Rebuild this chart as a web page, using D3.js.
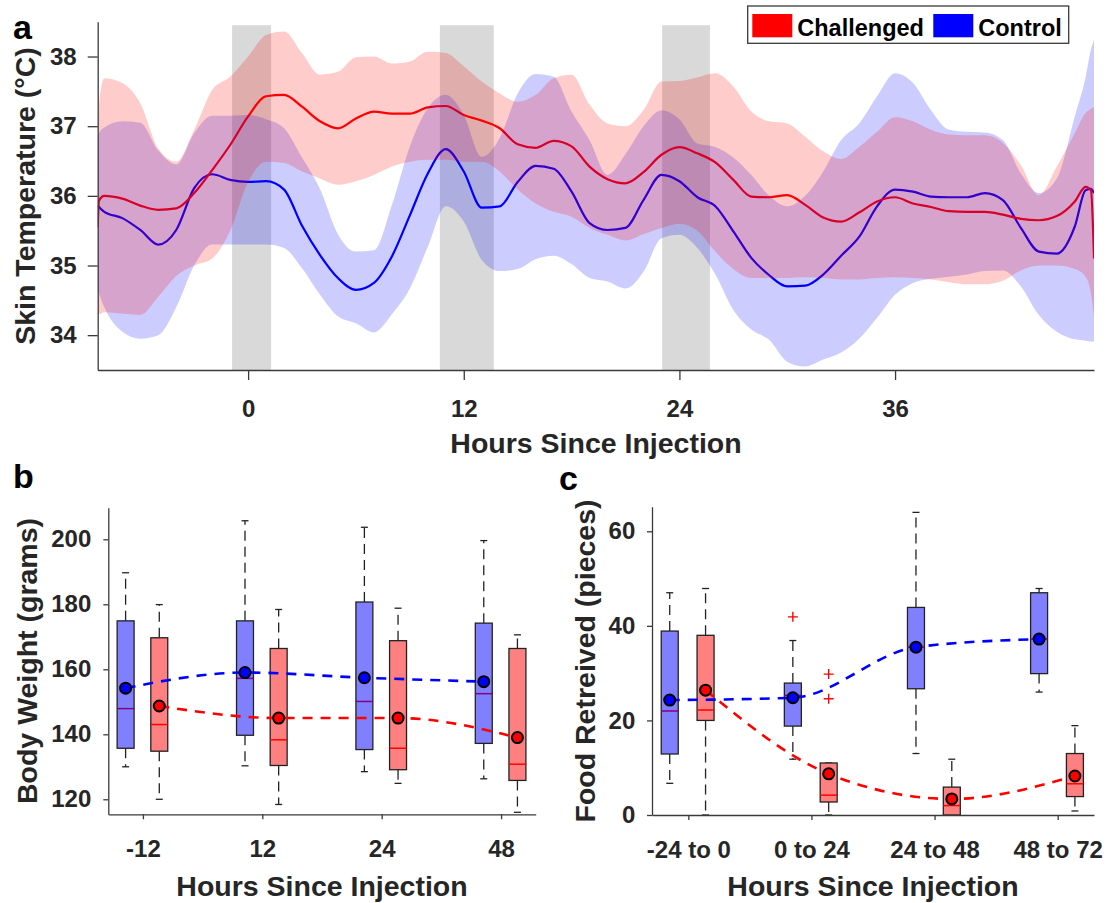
<!DOCTYPE html>
<html><head><meta charset="utf-8">
<script src="https://cdn.jsdelivr.net/npm/d3@7"></script>
<style>
body{margin:0;background:#fff;}
svg{display:block;font-family:"Liberation Sans",Arial,Helvetica,sans-serif;}
</style></head><body>
<svg id="chart" width="1109" height="903"></svg>
<script>
// ---------- Panel a data ----------
const hours = [-8.37,-8.3,-8,-7,-6,-5,-4,-3,-2,-1,0,1,2,3,4,5,6,7,8,9,10,11,12,13,14,15,16,17,18,19,20,21,22,23,24,25,26,27,28,29,30,31,32,33,34,35,36,37,38,39,40,41,42,43,44,45,46,46.6,46.9,47.07];
const challengedMean = [35.55,35.93,36.0,35.96,35.86,35.80,35.82,36.04,36.37,36.73,37.14,37.43,37.45,37.28,37.07,36.97,37.11,37.21,37.18,37.18,37.27,37.29,37.16,37.08,36.97,36.74,36.69,36.79,36.71,36.42,36.24,36.18,36.34,36.59,36.70,36.61,36.48,36.23,35.99,35.98,36.01,35.87,35.69,35.63,35.76,35.92,35.98,35.89,35.84,35.78,35.77,35.77,35.73,35.67,35.65,35.71,35.92,36.13,36.08,35.1];
const challengedLow = [34.3,34.3,34.33,34.31,34.29,34.55,34.85,35.0,35.1,35.5,36.2,36.49,36.47,36.35,36.25,36.16,36.21,36.30,36.42,36.49,36.52,36.52,36.49,36.49,36.35,36.09,35.89,35.77,35.70,35.54,35.44,35.36,35.45,35.54,35.6,35.5,35.2,34.95,34.82,34.82,34.82,34.83,34.82,34.8,34.80,34.82,34.83,34.82,34.80,34.76,34.73,34.73,34.78,34.93,35.0,35.0,34.95,34.84,34.6,34.27];
const challengedHigh = [36.85,37.3,37.69,37.62,37.33,36.68,36.49,36.95,37.52,37.71,38.0,38.31,38.36,38.05,37.74,37.78,37.99,38.0,37.90,37.93,38.07,38.05,37.86,37.64,37.47,37.35,37.45,37.69,37.74,37.31,37.04,37.0,37.23,37.64,37.65,37.70,37.76,37.57,37.21,37.07,37.04,36.85,36.64,36.53,36.70,36.92,37.13,37.07,36.95,36.88,36.87,36.87,36.76,36.44,36.01,36.42,36.90,37.19,37.25,37.28];
const controlMean = [35.86,35.84,35.77,35.68,35.51,35.30,35.51,36.11,36.31,36.23,36.20,36.21,36.09,35.57,35.15,34.82,34.65,34.75,35.13,35.72,36.32,36.67,36.35,35.83,35.85,36.20,36.43,36.39,36.06,35.61,35.51,35.54,35.94,36.30,36.21,35.98,35.85,35.49,35.11,34.86,34.70,34.71,34.87,35.14,35.41,35.85,36.09,36.06,35.99,35.98,35.98,36.04,35.94,35.54,35.20,35.17,35.56,36.08,36.1,36.04];
const controlLow = [34.67,34.6,34.4,34.05,33.95,34.0,34.4,35.0,35.3,35.3,35.3,35.3,35.25,34.96,34.58,34.27,34.17,34.04,34.3,34.67,35.27,35.85,35.63,35.08,34.92,34.95,35.09,35.14,35.02,34.82,34.77,34.67,34.91,35.39,35.44,35.25,34.87,34.36,34.08,33.93,33.62,33.55,33.65,33.75,33.95,34.25,34.58,34.75,34.81,34.84,34.87,34.92,34.93,34.70,34.29,34.05,33.94,33.92,33.91,33.91];
const controlHigh = [36.85,36.9,36.98,37.07,37.05,36.65,36.45,36.9,37.15,37.15,37.16,37.1,36.97,36.55,36.1,35.45,35.20,35.22,35.87,36.71,37.26,37.45,37.16,36.56,36.83,37.47,37.75,37.71,37.21,36.80,36.3,36.6,37.0,37.23,37.1,36.75,36.7,36.55,36.3,36.0,35.85,36.0,36.35,36.8,37.04,37.43,37.76,37.62,37.23,36.95,36.92,36.91,36.80,36.32,36.04,36.25,37.14,37.7,38.1,38.24];
const darkPeriods = [[-0.89,1.28],[10.67,13.67],[23.04,25.7]];
const tempTicks = [34,35,36,37,38];
const hourTicks = [0,12,24,36];
const seriesNames = ["Challenged","Control"];

// ---------- Panel b data: [min, q1, median, q3, max] ----------
const weightGroups = ["-12","12","24","48"];
const weightControlBox = [[130.0,135.7,147.9,174.9,189.7],[130.3,139.7,157.2,174.9,205.7],[128.5,135.3,150.1,180.7,203.7],[126.3,137.2,152.5,174.2,199.6]];
const weightControlMean = [154.2,159.0,157.4,156.2];
const weightChallBox = [[120.0,134.8,143.0,169.7,179.9],[118.4,130.4,138.3,166.4,178.4],[124.9,129.1,135.7,168.8,178.8],[116.0,125.8,130.8,166.4,170.6]];
const weightChallMean = [148.7,145.0,145.0,139.0];
const weightTicks = [120,140,160,180,200];

// ---------- Panel c data ----------
const foodGroups = ["-24 to 0","0 to 24","24 to 48","48 to 72"];
const foodControlBox = [[6.7,12.9,22.0,38.9,47.0],[11.8,18.8,25.3,27.9,36.9],[13.0,26.7,35.5,43.9,64.0],[26.0,29.9,37.2,47.0,47.9]];
const foodControlMean = [24.3,24.8,35.5,37.2];
const foodControlOutliers = [[],[41.9],[],[]];
const foodChallBox = [[0,20.0,22.2,38.0,47.9],[0,2.75,4.2,11.0,11.0],[0,0,2.0,5.9,11.8],[0.85,3.9,6.6,13.0,18.9]];
const foodChallMean = [26.4,8.7,3.4,8.25];
const foodChallOutliers = [[],[24.6,29.8],[],[]];
const foodTicks = [0,20,40,60];

// ---------- Drawing ----------
const svg = d3.select("#chart");
const FONT = '"Liberation Sans",Arial,Helvetica,sans-serif';
const TXT = "#262626", AX = "#3a3a3a";
const RED = "#ff0000", BLUE = "#0000ff";
const intFmt = d3.format("d");

function styleAxis(g){
  g.attr("font-size",null).attr("font-family",null);
  g.select(".domain").attr("stroke",AX).attr("stroke-width",1.3);
  g.selectAll(".tick line").attr("stroke",AX).attr("stroke-width",1.3);
  g.selectAll(".tick text").attr("font-size",24).attr("font-weight","bold")
   .attr("fill",TXT).attr("font-family",FONT);
}
function title(x,y,text,rot,size){
  const t = svg.append("text").attr("font-size",size||28.5).attr("font-weight","bold")
    .attr("fill",TXT).attr("text-anchor","middle").text(text);
  if(rot) t.attr("transform",`translate(${x},${y}) rotate(-90)`);
  else t.attr("x",x).attr("y",y);
}
function letter(x,y,t){
  svg.append("text").attr("x",x).attr("y",y).attr("font-size",34).attr("font-weight","bold")
   .attr("fill","#000").text(t);
}

// Panel a
const xA = d3.scaleLinear().domain([-8.37,47.07]).range([97.7,1094]);
const yA = d3.scaleLinear().domain([33.5,38.5]).range([370,21.7]);
svg.append("defs").append("clipPath").attr("id","clipA").append("rect")
  .attr("x",xA.range()[0]).attr("y",yA.range()[1])
  .attr("width",xA.range()[1]-xA.range()[0]).attr("height",yA.range()[0]-yA.range()[1]);
const gA = svg.append("g").attr("clip-path","url(#clipA)");
gA.selectAll("rect.dark").data(darkPeriods).join("rect").attr("class","dark")
  .attr("x",d=>xA(d[0])).attr("width",d=>xA(d[1])-xA(d[0]))
  .attr("y",yA(38.45)).attr("height",yA(33.5)-yA(38.45)).attr("fill","#d9d9d9");
const lineA = d3.line().x((d,i)=>xA(hours[i])).y(d=>yA(d)).curve(d3.curveMonotoneX);
const areaA = d3.area().x((d,i)=>xA(hours[i])).y0(d=>yA(d[0])).y1(d=>yA(d[1])).curve(d3.curveMonotoneX);
gA.append("path").attr("d",lineA(controlMean)).attr("fill","none").attr("stroke",BLUE).attr("stroke-width",2.2);
gA.append("path").attr("d",lineA(challengedMean)).attr("fill","none").attr("stroke",RED).attr("stroke-width",2.2);
gA.append("path").attr("d",areaA(d3.zip(controlLow,controlHigh))).attr("fill",BLUE).attr("fill-opacity",0.2);
gA.append("path").attr("d",areaA(d3.zip(challengedLow,challengedHigh))).attr("fill",RED).attr("fill-opacity",0.2);

svg.append("g").attr("transform",`translate(${xA.range()[0]},0)`)
  .call(d3.axisLeft(yA).tickValues(tempTicks).tickFormat(intFmt).tickSize(10).tickPadding(11).tickSizeOuter(0)).call(styleAxis);
svg.append("g").attr("transform",`translate(0,${yA.range()[0]})`)
  .call(d3.axisBottom(xA).tickValues(hourTicks).tickFormat(intFmt).tickSize(10).tickPadding(20).tickSizeOuter(0)).call(styleAxis);
title(596,453,"Hours Since Injection");
title(35,196,"Skin Temperature (°C)",true);
letter(13,39,"a");

// legend
const lg = svg.append("g");
lg.append("rect").attr("x",747.7).attr("y",6).attr("width",321).attr("height",37.3)
  .attr("fill","#fff").attr("stroke",AX).attr("stroke-width",1.3);
const legX = [752.3,933.3], legC = [RED,BLUE];
seriesNames.forEach((n,i)=>{
  lg.append("rect").attr("x",legX[i]).attr("y",14).attr("width",40).attr("height",23.3).attr("fill",legC[i]);
  lg.append("text").attr("x",legX[i]+45).attr("y",35.5).attr("font-size",23.5).attr("font-weight","bold")
    .attr("fill","#000").text(n);
});

// Box panels
function boxPanel(opt){
  const x = d3.scaleLinear().domain(opt.xDomain).range(opt.xRange);
  const y = d3.scaleLinear().domain(opt.yDomain).range(opt.yRange);
  const g = svg.append("g");
  const half = (x(1+opt.boxW/2)-x(1-opt.boxW/2))/2;
  const series = [
    {box:opt.ctrlBox, mean:opt.ctrlMean, off:opt.ctrlOff, fill:"#8080ff", med:"#800080", dot:BLUE, out:opt.ctrlOut},
    {box:opt.challBox, mean:opt.challMean, off:opt.challOff, fill:"#ff8080", med:"#ff0000", dot:RED, out:opt.challOut}
  ];
  series.forEach(s=>{
    s.box.forEach((b,i)=>{
      const cx = x(i+1+s.off);
      [[b[3],b[4]],[b[1],b[0]]].forEach(w=>{
        if(w[0]!==w[1]) g.append("line").attr("x1",cx).attr("x2",cx).attr("y1",y(w[0])).attr("y2",y(w[1]))
          .attr("stroke","#222").attr("stroke-width",1.3).attr("stroke-dasharray","10,6");
        g.append("line").attr("x1",cx-3.5).attr("x2",cx+3.5).attr("y1",y(w[1])).attr("y2",y(w[1]))
          .attr("stroke","#222").attr("stroke-width",1.3);
      });
      g.append("rect").attr("x",cx-half).attr("width",2*half).attr("y",y(b[3])).attr("height",y(b[1])-y(b[3]))
        .attr("fill",s.fill).attr("stroke","#222").attr("stroke-width",1.3);
      g.append("line").attr("x1",cx-half).attr("x2",cx+half).attr("y1",y(b[2])).attr("y2",y(b[2]))
        .attr("stroke",s.med).attr("stroke-width",1.5);
      (s.out? s.out[i]:[]).forEach(o=>{
        const oy=y(o);
        g.append("path").attr("d",`M${cx-5},${oy}H${cx+5}M${cx},${oy-5}V${oy+5}`)
          .attr("stroke",RED).attr("stroke-width",1.4).attr("fill","none");
      });
    });
  });
  series.forEach(s=>{
    const ln = d3.line().x((d,i)=>x(i+1+s.off)).y(d=>y(d)).curve(d3.curveMonotoneX);
    g.append("path").attr("d",ln(s.mean)).attr("fill","none").attr("stroke",s.dot)
      .attr("stroke-width",2.6).attr("stroke-dasharray","10,8");
  });
  series.forEach(s=>{
    g.selectAll(null).data(s.mean).join("circle").attr("cx",(d,i)=>x(i+1+s.off)).attr("cy",d=>y(d))
      .attr("r",5.5).attr("fill",s.dot).attr("stroke","#000").attr("stroke-width",2);
  });
  svg.append("g").attr("transform",`translate(${opt.xRange[0]},0)`)
    .call(d3.axisLeft(y).tickValues(opt.yTicks).tickFormat(intFmt).tickSize(5).tickPadding(opt.yPad).tickSizeOuter(0)).call(styleAxis);
  svg.append("g").attr("transform",`translate(0,${opt.yRange[0]})`)
    .call(d3.axisBottom(x).tickValues([1,2,3,4]).tickFormat((d,i)=>opt.labels[i]).tickSize(5).tickPadding(21).tickSizeOuter(0)).call(styleAxis);
}

boxPanel({xDomain:[0.71,4.29], xRange:[108.3,535.7], yDomain:[115.38,209.72], yRange:[814.3,507.7],
  ctrlBox:weightControlBox, ctrlMean:weightControlMean, challBox:weightChallBox, challMean:weightChallMean,
  ctrlOff:-0.145, challOff:0.137, boxW:0.142, yTicks:weightTicks, yPad:12, labels:weightGroups});
title(322,896,"Hours Since Injection");
title(37,661,"Body Weight (grams)",true);
letter(13,488,"b");

boxPanel({xDomain:[0.705,4.295], xRange:[652,1094], yDomain:[0,65.2], yRange:[815,506.7],
  ctrlBox:foodControlBox, ctrlMean:foodControlMean, ctrlOut:foodControlOutliers,
  challBox:foodChallBox, challMean:foodChallMean, challOut:foodChallOutliers,
  ctrlOff:-0.151, challOff:0.14, boxW:0.138, yTicks:foodTicks, yPad:11.7, labels:foodGroups});
title(873,896,"Hours Since Injection");
title(595,661,"Food Retreived (pieces)",true);
letter(559,490,"c");
</script>
</body></html>
